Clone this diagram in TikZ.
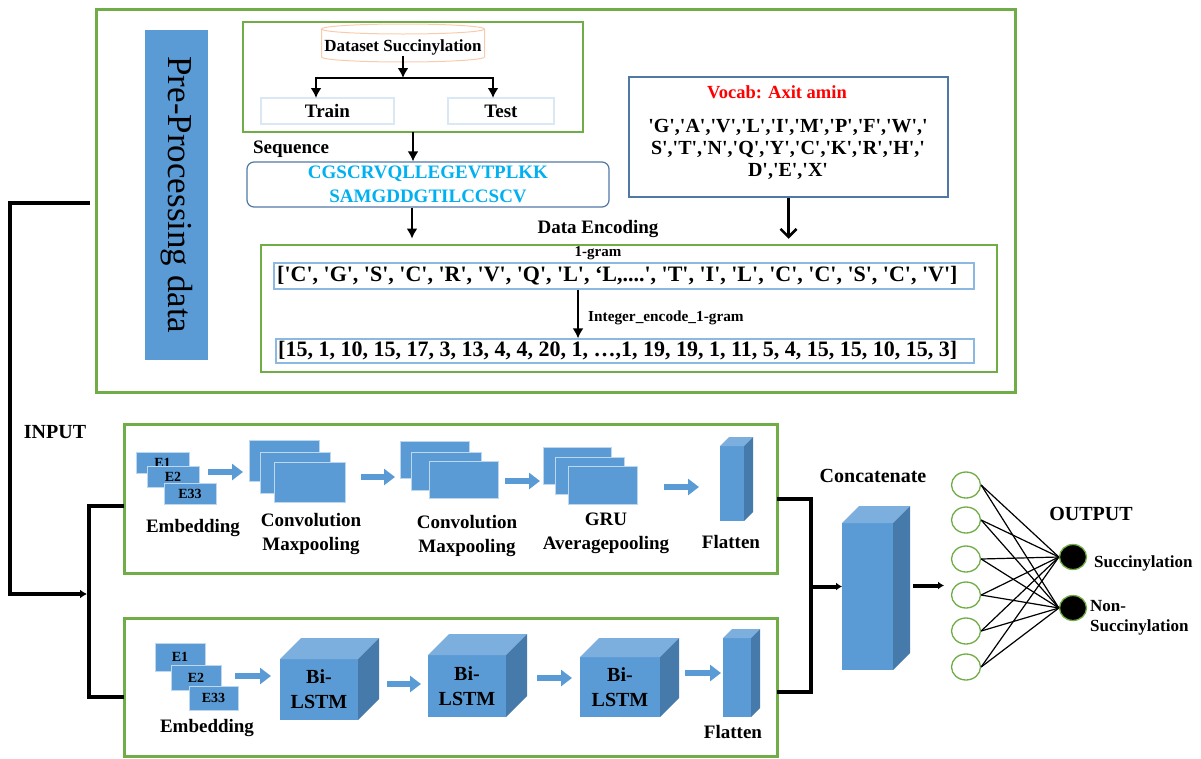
\documentclass[tikz,border=0pt]{standalone}
\usepackage{fontspec}
\setmainfont{Liberation Serif}
\usetikzlibrary{arrows.meta,shapes.geometric}

\definecolor{frgreen}{RGB}{112,173,71}
\definecolor{lblue}{RGB}{91,155,213}
\definecolor{topblue}{RGB}{125,175,222}
\definecolor{sideblue}{RGB}{70,122,170}
\definecolor{layeredge}{RGB}{189,215,238}
\definecolor{edgeblue}{RGB}{80,120,165}
\definecolor{paleblue}{RGB}{140,185,225}
\definecolor{faintblue}{RGB}{218,232,246}
\definecolor{cylorange}{RGB}{248,203,173}
\definecolor{seqcyan}{RGB}{0,176,240}

\newcommand{\lblfont}{\bfseries\fontsize{19}{24}\selectfont}
\newcommand{\qt}{\textquotesingle}
% front face as a node, top and side faces filled behind it
\newcommand{\cubeblock}[7]{%
  \node[cubefront, minimum width=#4pt, minimum height=#5pt] (#1) at (#2,#3) {#7};
  \fill[cubetop] (#1.north west) -- ++(#6pt,#6pt) -- ++(#4pt,0pt) -- (#1.north east) -- cycle;
  \fill[cubeside] (#1.north east) -- ++(#6pt,#6pt) -- ++(0pt,-#5pt) -- (#1.south east) -- cycle;
}

\begin{document}
\begin{tikzpicture}[x=1pt,y=-1pt,
  greenbox/.style={draw=frgreen, line width=3pt, inner sep=0pt, outer sep=0pt},
  greenthin/.style={draw=frgreen, line width=1.5pt, inner sep=0pt, outer sep=0pt},
  lbl/.style={font=\lblfont, align=center, inner sep=0pt},
  layer/.style={fill=lblue, draw=layeredge, line width=0.8pt, inner sep=0pt, outer sep=0pt},
  ebox/.style={layer, font=\bfseries\fontsize{14}{16}\selectfont},
  cubefront/.style={fill=lblue, inner sep=0pt, outer sep=0pt, align=center, font=\bfseries\fontsize{20}{25}\selectfont},
  cubetop/.style={fill=topblue},
  cubeside/.style={fill=sideblue},
  blockarrow/.style={draw=lblue, line width=6pt, -{Triangle[length=11pt,width=16pt]}},
  blackarrow/.style={line width=2.6pt, -{Latex[length=10pt,width=11pt]}},
  conn/.style={line width=4pt},
  synapse/.style={line width=1.2pt},
  neuron/.style={ellipse, draw=frgreen, line width=1.3pt, minimum width=29pt, minimum height=26pt, inner sep=0pt},
  outneuron/.style={neuron, fill=black, minimum width=27pt, minimum height=25pt}]
\useasboundingbox (0,0) rectangle (1201,758);

% pre-processing part
\node[greenbox, minimum width=919pt, minimum height=383pt] (prep) at (555.5,200.5) {};
\node[fill=lblue, minimum width=330pt, minimum height=63pt, rotate=-90, inner sep=0pt, font=\fontsize{35}{40}\selectfont] (prebar) at (176.5,195) {Pre-Processing data};
\node[greenthin, minimum width=340pt, minimum height=110pt] (splitbox) at (413,77) {};
\draw[draw=cylorange, line width=1pt] (403,29) ellipse[x radius=81.5pt, y radius=5pt];
\draw[draw=cylorange, line width=1pt] (321.5,29) -- (321.5,57) arc[start angle=180, end angle=360, x radius=81.5pt, y radius=5pt] -- (484.5,29);
\node[font=\bfseries\fontsize{17}{20}\selectfont, inner sep=1pt] (dataset) at (403,47) {Dataset Succinylation};
\coordinate (split) at (403,78);
\coordinate (trainin) at (316,98);
\coordinate (testin) at (493,98);
\node[draw=faintblue, line width=1.5pt, minimum width=133pt, minimum height=26pt, inner sep=0pt, font=\lblfont] (train) at (327.5,111) {Train};
\node[draw=faintblue, line width=1.5pt, minimum width=106pt, minimum height=26pt, inner sep=0pt, font=\lblfont] (test) at (501,111) {Test};
\draw[blackarrow] (dataset.south) -- (split);
\draw[line width=2.6pt] (trainin |- split) -- (testin |- split);
\draw[blackarrow] (split) -| (trainin);
\draw[blackarrow] (split) -| (testin);

\node[lbl] (seqlbl) at (291,149) {Sequence};
\node[draw=edgeblue, line width=1.2pt, rounded corners=7pt, minimum width=362pt, minimum height=45pt, inner sep=0pt,
  align=center, text=seqcyan, font=\bfseries\fontsize{19}{23.5}\selectfont] (seq) at (428,184.5) {CGSCRVQLLEGEVTPLKK\\SAMGDDGTILCCSCV};
\draw[blackarrow] (splitbox.south) -- (splitbox.south |- seq.north);

\node[draw=edgeblue, line width=1.5pt, minimum width=319pt, minimum height=120pt, inner sep=0pt] (vocab) at (788.5,137) {};
\node[text=red, font=\bfseries\fontsize{18.5}{22}\selectfont, inner sep=0pt] (vocabtitle) at (777,92) {Vocab: Axit amin};
\node[align=center, font=\bfseries\fontsize{20}{22}\selectfont, inner sep=0pt] (vocablist) at (788,149)
  {\qt G\qt,\qt A\qt,\qt V\qt,\qt L\qt,\qt I\qt,\qt M\qt,\qt P\qt,\qt F\qt,\qt W\qt,\qt\\
   S\qt,\qt T\qt,\qt N\qt,\qt Q\qt,\qt Y\qt,\qt C\qt,\qt K\qt,\qt R\qt,\qt H\qt,\qt\\
   D\qt,\qt E\qt,\qt X\qt};

\draw[blackarrow] ([xshift=-16pt]seq.south) -- ++(0pt,-31pt);
\draw[line width=2.6pt, -{Straight Barb[length=8pt,width=16pt]}] (vocab.south) -- ++(0pt,-41pt);

\node[lbl] (detitle) at (598,229) {Data Encoding};
\node[greenthin, minimum width=736pt, minimum height=127pt] (debox) at (629,308.5) {};
\node[font=\bfseries\fontsize{15}{18}\selectfont, inner sep=0pt] (onegram) at (598,253) {1-gram};
\node[draw=paleblue, line width=1.2pt, minimum width=700pt, minimum height=26pt, inner sep=0pt] (grambox) at (624,276) {};
\node[anchor=west, font=\bfseries\fontsize{22}{24}\selectfont, inner sep=0pt] (gramtext) at (277,276)
  {[\qt C\qt, \qt G\qt, \qt S\qt, \qt C\qt, \qt R\qt, \qt V\qt, \qt Q\qt, \qt L\qt, ‘L,....\qt, \qt T\qt, \qt I\qt, \qt L\qt, \qt C\qt, \qt C\qt, \qt S\qt, \qt C\qt, \qt V\qt]};
\node[draw=paleblue, line width=1.2pt, minimum width=698pt, minimum height=24pt, inner sep=0pt] (intbox) at (625,351) {};
\node[anchor=west, font=\bfseries\fontsize{22}{24}\selectfont, inner sep=0pt] (inttext) at (278,351)
  {[15, 1, 10, 15, 17, 3, 13, 4, 4, 20, 1, …,1, 19, 19, 1, 11, 5, 4, 15, 15, 10, 15, 3]};
\draw[blackarrow] ([xshift=-46pt]grambox.south) -- ([xshift=-47pt]intbox.north);
\node[anchor=west, font=\bfseries\fontsize{15.3}{18}\selectfont, inner sep=0pt] (enclbl) at (588,318) {Integer\_encode\_1-gram};

% input branches
\node[greenbox, minimum width=653pt, minimum height=149pt] (cnn) at (450.5,498.5) {};
\node[greenbox, minimum width=653pt, minimum height=138pt] (lstm) at (450.5,687) {};
\node[lbl, font=\bfseries\fontsize{20}{24}\selectfont] (inputlbl) at (55,432) {INPUT};
\coordinate (inbranch) at (87,594);
\draw[conn, -{Latex[length=7pt,width=9pt]}] ([xshift=-6pt,yshift=-2.5pt]prep.west) -- ++(-80pt,0pt) |- (inbranch);
\draw[conn] ([yshift=-7pt]cnn.west) -- ++(-35pt,0pt) |- ([yshift=-10pt]lstm.west);

% CNN / GRU branch
\node[ebox, minimum width=53pt, minimum height=21pt] (ce1) at (162.5,462.5) {E1};
\node[ebox, minimum width=52pt, minimum height=21pt] (ce2) at (173,476.5) {E2};
\node[ebox, minimum width=52pt, minimum height=21pt] (ce3) at (190,493.5) {E33};
\draw[blockarrow] ([xshift=9pt,yshift=4.5pt]ce2.east) -- ++(35pt,0pt);
\node[layer, minimum width=70pt, minimum height=41pt] (cva) at (284,460.5) {};
\node[layer, minimum width=70pt, minimum height=41pt] (cvb) at (295,472.5) {};
\node[layer, minimum width=71pt, minimum height=40pt] (cvc) at (309.5,482) {};
\draw[blockarrow] ([xshift=16pt,yshift=5pt]cvc.east) -- ++(34pt,0pt);
\node[layer, minimum width=69pt, minimum height=37pt] (cwa) at (434.5,459.5) {};
\node[layer, minimum width=70pt, minimum height=38pt] (cwb) at (446,471) {};
\node[layer, minimum width=69pt, minimum height=37pt] (cwc) at (463.5,479.5) {};
\draw[blockarrow] ([xshift=7pt,yshift=-1.5pt]cwc.east) -- ++(35pt,0pt);
\node[layer, minimum width=68pt, minimum height=37pt] (gra) at (577,465.5) {};
\node[layer, minimum width=69pt, minimum height=37pt] (grb) at (589.5,475.5) {};
\node[layer, minimum width=69pt, minimum height=38pt] (grc) at (602.5,485) {};
\draw[blockarrow] ([xshift=27pt,yshift=-2pt]grc.east) -- ++(35pt,0pt);
\cubeblock{cflat}{732}{483.5}{24}{75}{9}{}
\node[lbl] (cembl) at (193,528) {Embedding};
\node[lbl] (cvl) at (311,534) {Convolution\\Maxpooling};
\node[lbl] (cwl) at (467,535.5) {Convolution\\Maxpooling};
\node[lbl] (grl) at (606,533.5) {GRU\\Averagepooling};
\node[lbl] (cflatl) at (731,542) {Flatten};

% Bi-LSTM branch
\node[ebox, minimum width=50pt, minimum height=28pt] (le1) at (180,657) {E1};
\node[ebox, minimum width=50pt, minimum height=25pt] (le2) at (196,677.5) {E2};
\node[ebox, minimum width=49pt, minimum height=24pt] (le3) at (213.5,698) {E33};
\draw[blockarrow] ([xshift=14pt,yshift=1.5pt]le2.east) -- ++(36pt,0pt);
\cubeblock{bl1}{319}{689.5}{78}{61}{21}{Bi-\\LSTM}
\draw[blockarrow] ([xshift=29pt,yshift=5.5pt]bl1.east) -- ++(34pt,0pt);
\cubeblock{bl2}{467}{686}{78}{62}{21}{Bi-\\LSTM}
\draw[blockarrow] ([xshift=31pt,yshift=8pt]bl2.east) -- ++(35pt,0pt);
\cubeblock{bl3}{620}{687}{80}{60}{19}{Bi-\\LSTM}
\draw[blockarrow] ([xshift=25pt,yshift=14pt]bl3.east) -- ++(36pt,0pt);
\cubeblock{lflat}{737}{677.5}{28}{79}{9}{}
\node[lbl] (lembl) at (207,728) {Embedding};
\node[lbl] (lflatl) at (733,732) {Flatten};

% merge and output
\draw[conn] (cnn.east) -- ++(34pt,0pt) |- ([yshift=-5pt]lstm.east);
\cubeblock{concat}{867.5}{596.5}{51}{147}{17}{}
\node[lbl, font=\bfseries\fontsize{20}{24}\selectfont] (concatlbl) at (873,476) {Concatenate};
\coordinate (join) at (811,586.5);
\draw[conn, -{Latex[length=6pt,width=8pt]}] (join) -- ([yshift=10pt]concat.west);
\draw[conn, -{Latex[length=6pt,width=8pt]}] ([xshift=20pt,yshift=11pt]concat.east) -- ++(31pt,0pt);

\foreach \i/\y in {1/485,2/520,3/559,4/595,5/631,6/667}
  \node[neuron] (in\i) at (966,\y) {};
\node[outneuron] (out1) at (1073,557) {};
\node[outneuron] (out2) at (1073,608) {};
\foreach \i in {1,...,6}
  \foreach \j in {1,2}
    \draw[synapse] (in\i.east) -- (out\j.west);
\node[lbl, font=\bfseries\fontsize{20}{24}\selectfont] (outlbl) at (1091,514) {OUTPUT};
\node[anchor=west, font=\bfseries\fontsize{17}{20}\selectfont, inner sep=0pt] (succ) at (1094,563) {Succinylation};
\node[anchor=west, align=left, font=\bfseries\fontsize{17}{20}\selectfont, inner sep=0pt] (nonsucc) at (1090,618) {Non-\\Succinylation};

\end{tikzpicture}
\end{document}
